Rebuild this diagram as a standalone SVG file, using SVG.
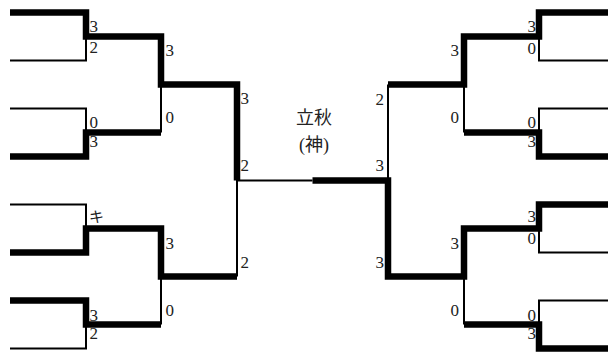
<svg xmlns="http://www.w3.org/2000/svg" width="608" height="356" viewBox="0 0 608 356">
<style>
.w{fill:none;stroke:#000;stroke-width:6.5;stroke-linejoin:miter}
.l{fill:none;stroke:#000;stroke-width:2}
.s{font-size:17px;fill:#222}
.e{text-anchor:end}
.k{font-size:15px;fill:#222}
.t{font-size:18px;fill:#222;text-anchor:middle}
</style>
<rect width="608" height="356" fill="#fff"/>
<g id="title" font-family="'Liberation Serif', 'Noto Sans CJK JP', serif">
<text class="t" x="314" y="124">立秋</text>
<text class="t" x="314" y="151">(神)</text>
</g>
<g id="left-scores" class="s" font-family="'Liberation Serif', 'DejaVu Serif', serif">
<g id="left-r1">
<text x="89.5" y="32">3</text><text x="89.5" y="53">2</text>
<text x="89.5" y="128">0</text><text x="89.5" y="147">3</text>
<text class="k" x="89" y="222" font-family="'Noto Sans CJK JP', sans-serif">キ</text>
<text x="89.5" y="321">3</text><text x="89.5" y="339">2</text>
</g>
<g id="left-r2">
<text x="165.5" y="56">3</text><text x="165.5" y="123">0</text>
<text x="165.5" y="249">3</text><text x="165.5" y="316">0</text>
</g>
<g id="left-r3">
<text x="240.5" y="104">3</text><text x="240.5" y="171">2</text><text x="240.5" y="268">2</text>
</g>
</g>
<g id="right-scores" class="s e" font-family="'Liberation Serif', 'DejaVu Serif', serif">
<g id="right-r3">
<text x="384" y="105">2</text><text x="384" y="171">3</text><text x="384" y="268">3</text>
</g>
<g id="right-r2">
<text x="459" y="56">3</text><text x="459" y="123">0</text>
<text x="459" y="249">3</text><text x="459" y="316">0</text>
</g>
<g id="right-r1">
<text x="536" y="32">3</text><text x="536" y="54">0</text>
<text x="536" y="128">0</text><text x="536" y="147">3</text>
<text x="536" y="222">3</text><text x="536" y="244">0</text>
<text x="536" y="321">0</text><text x="536" y="339">3</text>
</g>
</g>
<g id="connectors">
<g id="left-bracket">
<path class="l" d="M10,60.5H86V36.5"/>
<path class="l" d="M10,108.5H86V132.5"/>
<path class="l" d="M161,132.5V84.5"/>
<path class="l" d="M10,204.5H86V228.5"/>
<path class="l" d="M10,348.5H86V324.5"/>
<path class="l" d="M161,324.5V276.5"/>
<path class="l" d="M237,276.5V180.5H312.5"/>
<path class="w" d="M10,12.5H86V36.5H161V84.5H237V180.5"/>
<path class="w" d="M10,156.5H86V132.5H161"/>
<path class="w" d="M10,252.5H86V228.5H161V276.5H237"/>
<path class="w" d="M10,300.5H86V324.5H161"/>
</g>
<g id="right-bracket">
<path class="l" d="M615,60.5H539V36.5"/>
<path class="l" d="M615,108.5H539V132.5"/>
<path class="l" d="M464,132.5V84.5"/>
<path class="l" d="M615,252.5H539V228.5"/>
<path class="l" d="M615,300.5H539V324.5"/>
<path class="l" d="M464,324.5V276.5"/>
<path class="l" d="M388,84.5V180.5"/>
<path class="w" d="M615,12.5H539V36.5H464V84.5H388"/>
<path class="w" d="M615,156.5H539V132.5H464"/>
<path class="w" d="M615,204.5H539V228.5H464V276.5H388V180.5H312.5"/>
<path class="w" d="M615,348.5H539V324.5H464"/>
</g>
</g>
</svg>
